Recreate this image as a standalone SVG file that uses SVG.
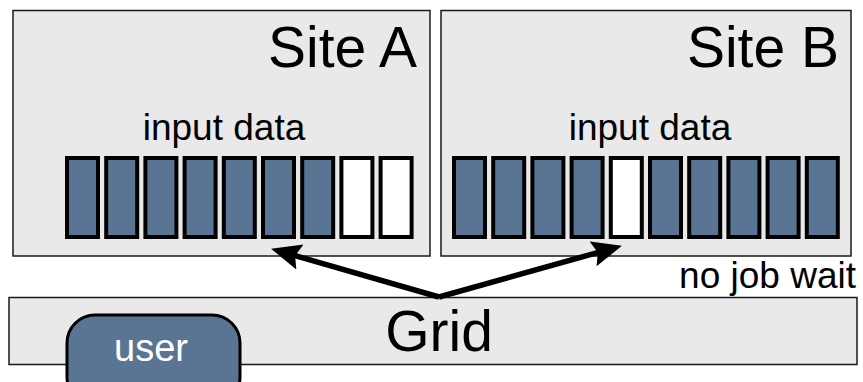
<svg xmlns="http://www.w3.org/2000/svg" width="863" height="382" viewBox="0 0 863 382">
  <style>
    .panel { fill: #e9e9e9; stroke: #1a1a1a; stroke-width: 1.5; }
    .blk { fill: #5a7594; stroke: #000; stroke-width: 4; }
    .free { fill: #ffffff; stroke: #000; stroke-width: 4; }
    .t { font-family: "Liberation Sans", Arial, Helvetica, sans-serif; fill: #000; }
    .arrow { stroke: #000; stroke-width: 5.5; fill: none; marker-end: url(#head); }
  </style>
  <defs>
    <marker id="head" markerUnits="userSpaceOnUse" markerWidth="32" markerHeight="28" refX="15" refY="13" orient="auto">
      <path d="M0,0 L30,13 L0,26 L5,13 z" fill="#000"/>
    </marker>
  </defs>

  <rect width="863" height="382" fill="#ffffff"/>

  <!-- Site A with its storage slots -->
  <g id="site-a">
    <rect class="panel" x="13" y="10.5" width="417" height="245.5"/>
    <text class="t" x="417" y="67" font-size="57" text-anchor="end">Site A</text>
    <text class="t" x="224" y="140" font-size="37" text-anchor="middle">input data</text>
    <rect class="blk" x="67" y="158" width="31" height="79"/>
    <rect class="blk" x="106.2" y="158" width="31" height="79"/>
    <rect class="blk" x="145.4" y="158" width="31" height="79"/>
    <rect class="blk" x="184.6" y="158" width="31" height="79"/>
    <rect class="blk" x="223.8" y="158" width="31" height="79"/>
    <rect class="blk" x="263" y="158" width="31" height="79"/>
    <rect class="blk" x="302.2" y="158" width="31" height="79"/>
    <rect class="free" x="341.4" y="158" width="31" height="79"/>
    <rect class="free" x="380.6" y="158" width="31" height="79"/>
  </g>

  <!-- Site B with its storage slots -->
  <g id="site-b">
    <rect class="panel" x="441" y="10.5" width="410" height="245.5"/>
    <text class="t" x="839" y="67" font-size="57" text-anchor="end">Site B</text>
    <text class="t" x="650" y="140" font-size="37" text-anchor="middle">input data</text>
    <rect class="blk" x="454" y="158" width="31" height="79"/>
    <rect class="blk" x="493.2" y="158" width="31" height="79"/>
    <rect class="blk" x="532.4" y="158" width="31" height="79"/>
    <rect class="blk" x="571.6" y="158" width="31" height="79"/>
    <rect class="free" x="610.8" y="158" width="31" height="79"/>
    <rect class="blk" x="650" y="158" width="31" height="79"/>
    <rect class="blk" x="689.2" y="158" width="31" height="79"/>
    <rect class="blk" x="728.4" y="158" width="31" height="79"/>
    <rect class="blk" x="767.6" y="158" width="31" height="79"/>
    <rect class="blk" x="806.8" y="158" width="31" height="79"/>
  </g>

  <!-- Grid layer -->
  <g id="grid">
    <rect class="panel" x="9" y="297.5" width="848" height="67"/>
    <text class="t" x="439" y="351" font-size="57" text-anchor="middle">Grid</text>
  </g>

  <!-- user -->
  <g id="user">
    <rect x="67" y="315" width="173" height="90" rx="28" ry="28" fill="#5a7594" stroke="#000" stroke-width="3"/>
    <text class="t" x="151" y="361" font-size="38" text-anchor="middle" style="fill:#fff">user</text>
  </g>

  <!-- status label -->
  <text id="no-job-wait" class="t" x="856" y="288" font-size="37" text-anchor="end">no job wait</text>

  <!-- dispatch connectors from the grid to each site -->
  <g id="connectors">
    <path class="arrow" d="M439,297 L285.5,252.9"/>
    <path class="arrow" d="M439,297 L607.5,249.8"/>
  </g>
</svg>
